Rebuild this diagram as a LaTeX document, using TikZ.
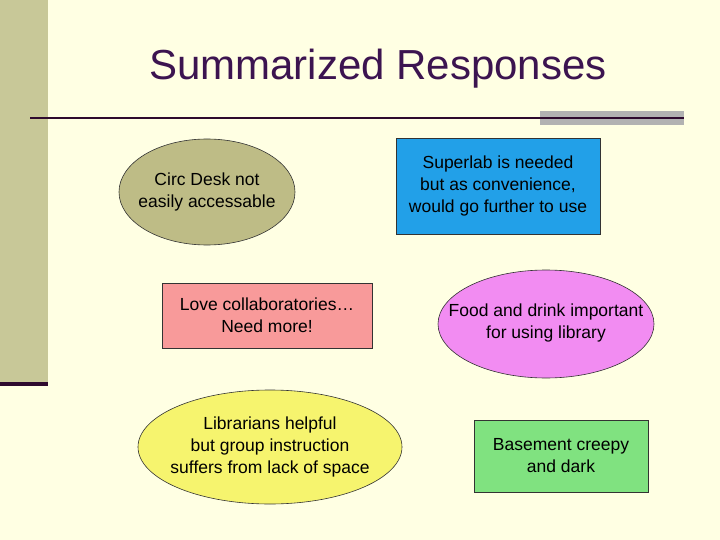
\documentclass[tikz,border=0pt]{standalone}
\usepackage{fontspec}
\setmainfont{Liberation Sans}
\usetikzlibrary{shapes.geometric}
\definecolor{bg}{HTML}{FFFFE3}
\definecolor{bar}{HTML}{C8C898}
\definecolor{maroon}{HTML}{2E0A2E}
\definecolor{titlec}{HTML}{3C1450}
\definecolor{olive}{HTML}{BEBC86}
\definecolor{blue1}{HTML}{22A0E8}
\definecolor{pink1}{HTML}{F89A9A}
\definecolor{mag}{HTML}{F28CF2}
\definecolor{yel}{HTML}{F6F46E}
\definecolor{grn}{HTML}{80E280}
\begin{document}
\begin{tikzpicture}[x=1pt,y=-1pt,
  txt/.style={font=\fontsize{17.5}{22}\selectfont,align=center,text=black,inner sep=0pt},
  box/.style={draw=black!80,line width=0.6pt,txt},
  oval/.style={draw=black!80,line width=0.6pt,ellipse,inner sep=0pt}]
\fill[bg] (0,0) rectangle (720,540);
\useasboundingbox (0,0) rectangle (720,540);
\fill[bar] (0,0) rectangle (48,382);
\fill[maroon] (0,382) rectangle (48,386);
\fill[black!30] (540,111) rectangle (684,125);
\draw[maroon,line width=1.5pt] (30,118) -- (684,118);
\node[titlec,font=\fontsize{42}{46}\selectfont] (title) at (378,69) {Summarized Responses};
\node[oval,fill=olive,minimum width=176,minimum height=106] (circ) at (207,192) {};
\node[txt] (circt) at (circ.center) {Circ Desk not\\easily accessable};
\node[box,rectangle,fill=blue1,minimum width=204,minimum height=96] (super) at (498,186) {Superlab is needed\\but as convenience,\\would go further to use};
\node[box,rectangle,fill=pink1,minimum width=210,minimum height=65] (love) at (267,315.5) {Love collaboratories\dots\\Need more!};
\node[oval,fill=mag,minimum width=216,minimum height=108] (food) at (546,324) {};
\node[txt] (foodt) at ([yshift=1]food.center) {Food and drink important\\for using library};
\node[oval,fill=yel,minimum width=264,minimum height=114] (lib) at (270,447) {};
\node[txt] (libt) at (lib.center) {Librarians helpful\\but group instruction\\suffers from lack of space};
\node[box,rectangle,fill=grn,minimum width=174,minimum height=72] (base) at (561,456) {Basement creepy\\and dark};
\end{tikzpicture}
\end{document}
